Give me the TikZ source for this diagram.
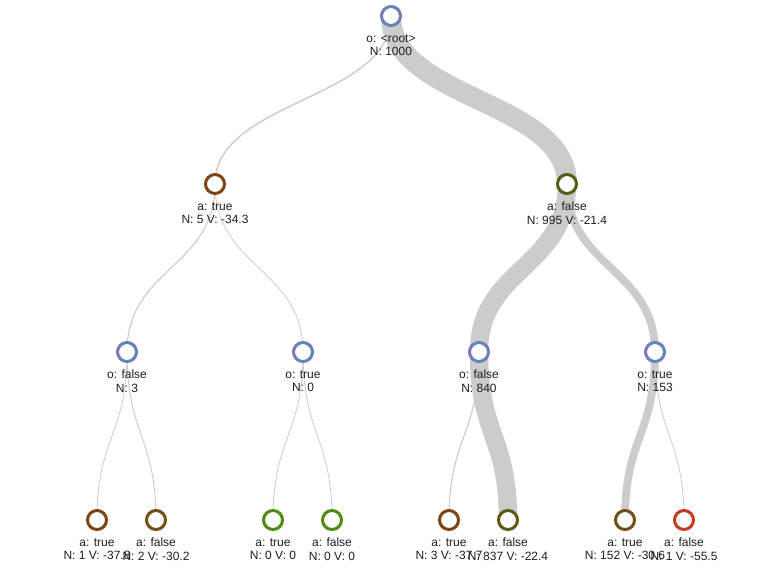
\documentclass[tikz,border=0pt]{standalone}
\usepackage{fontspec}
\setmainfont{Liberation Sans}
\usetikzlibrary{calc}
\definecolor{cblue}{RGB}{107,128,181}
\definecolor{cbrown}{RGB}{125,68,20}
\definecolor{colive}{RGB}{90,90,20}
\definecolor{cgold}{RGB}{112,80,22}
\definecolor{cgreen}{RGB}{80,138,16}
\definecolor{cred}{RGB}{194,59,34}
\definecolor{edgegray}{RGB}{204,204,204}
\pgfdeclarelayer{bg}
\pgfdeclarelayer{edges}
\pgfsetlayers{bg,edges,main}
\tikzset{
  st/.style={circle, draw=#1, line width=3pt, fill=white, minimum size=19pt, inner sep=0pt},
  lbl/.style={align=center, font=\fontsize{12}{13.5}\selectfont, inner sep=0pt, text=black!88},
  edge/.style={draw=edgegray, line cap=butt}
}
\newcommand\lnk[3]{\draw[edge, line width=#3pt] let \p1=(#1.center), \p2=(#2.center) in (\p1) .. controls ({\x1},{0.5*\y1+0.5*\y2}) and ({\x2},{0.5*\y1+0.5*\y2}) .. (\p2);}
\begin{document}
\begin{tikzpicture}[x=1pt,y=-1pt]
\begin{pgfonlayer}{bg}
\fill[white] (0,0) rectangle (781,582);
\end{pgfonlayer}
\useasboundingbox (0,0) rectangle (781,582);
% nodes
\node[st=cblue] (r) at (391,16) {};
\node[lbl] (rl) at (391,45) {o: <root>\\N: 1000};
\node[st=cbrown] (a1) at (215,184) {};
\node[lbl] (a1l) at (215,213) {a: true\\N: 5 V: -34.3};
\node[st=colive] (a2) at (567,184) {};
\node[lbl] (a2l) at (567,213) {a: false\\N: 995 V: -21.4};
\node[st=cblue] (o1) at (127,352) {};
\node[lbl] (o1l) at (127,381) {o: false\\N: 3};
\node[st=cblue] (o2) at (303,352) {};
\node[lbl] (o2l) at (303,381) {o: true\\N: 0};
\node[st=cblue] (o3) at (479,352) {};
\node[lbl] (o3l) at (479,381) {o: false\\N: 840};
\node[st=cblue] (o4) at (655,352) {};
\node[lbl] (o4l) at (655,381) {o: true\\N: 153};
\node[st=cbrown] (b1) at (97,520) {};
\node[lbl] (b1l) at (97,549) {a: true\\N: 1 V: -37.8};
\node[st=cgold] (b2) at (156,520) {};
\node[lbl] (b2l) at (156,549) {a: false\\N: 2 V: -30.2};
\node[st=cgreen] (b3) at (273,520) {};
\node[lbl] (b3l) at (273,549) {a: true\\N: 0 V: 0};
\node[st=cgreen] (b4) at (332,520) {};
\node[lbl] (b4l) at (332,549) {a: false\\N: 0 V: 0};
\node[st=cbrown] (b5) at (449,520) {};
\node[lbl] (b5l) at (449,549) {a: true\\N: 3 V: -37.7};
\node[st=colive] (b6) at (508,520) {};
\node[lbl] (b6l) at (508,549) {a: false\\N: 837 V: -22.4};
\node[st=cgold] (b7) at (625,520) {};
\node[lbl] (b7l) at (625,549) {a: true\\N: 152 V: -30.6};
\node[st=cred] (b8) at (684,520) {};
\node[lbl] (b8l) at (684,549) {a: false\\N: 1 V: -55.5};
% edges
\begin{pgfonlayer}{edges}
\lnk{r}{a1}{1.4}
\lnk{r}{a2}{20}
\lnk{a1}{o1}{1.1}
\lnk{a1}{o2}{0.8}
\lnk{a2}{o3}{18.3}
\lnk{a2}{o4}{7.8}
\lnk{o1}{b1}{0.8}
\lnk{o1}{b2}{0.9}
\lnk{o2}{b3}{0.8}
\lnk{o2}{b4}{0.8}
\lnk{o3}{b5}{1.1}
\lnk{o3}{b6}{18.3}
\lnk{o4}{b7}{7.8}
\lnk{o4}{b8}{0.8}
\end{pgfonlayer}
\end{tikzpicture}
\end{document}
